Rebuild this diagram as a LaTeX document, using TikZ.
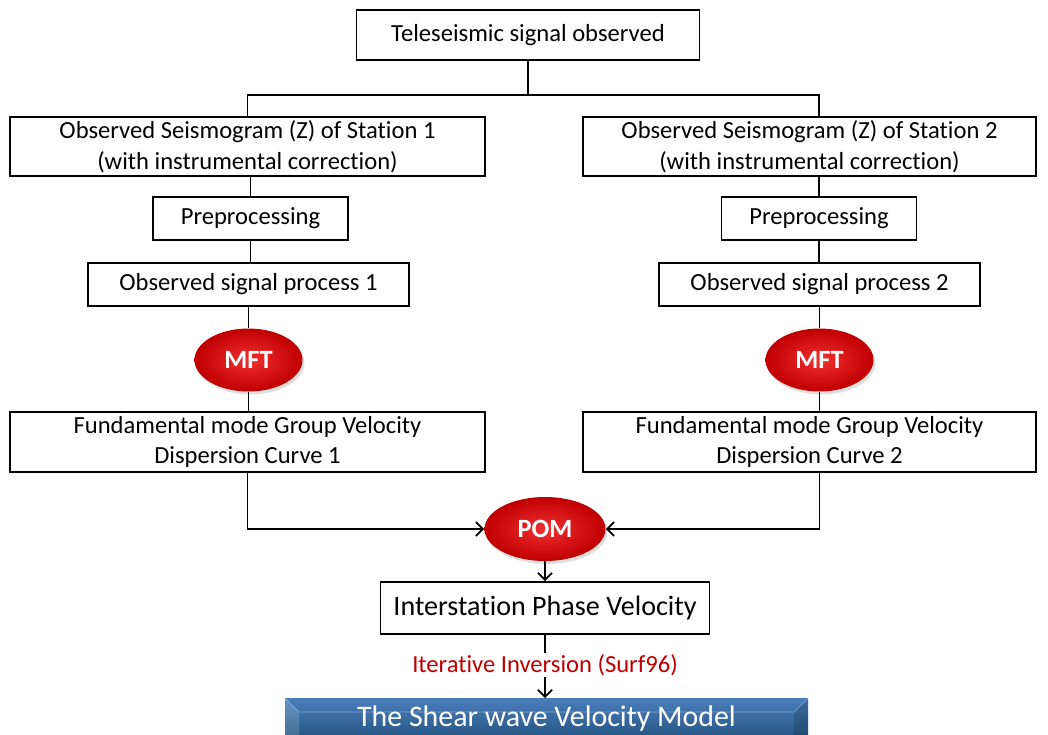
\documentclass[tikz,border=0pt]{standalone}
\usepackage{fontspec}
\setmainfont{Carlito}[Ligatures=NoCommon]
\usetikzlibrary{shapes.geometric,shadows,arrows.meta}
\definecolor{ovalred}{HTML}{C00000}
\definecolor{ovallight}{HTML}{F03030}
\definecolor{labelred}{HTML}{C00000}
\definecolor{modeltop}{HTML}{4A7EBB}
\definecolor{modelbot}{HTML}{1F4E79}
\tikzset{
  box/.style={draw, line width=1pt, fill=white, align=center, inner sep=0pt,
    font=\fontsize{14}{17.5}\selectfont},
  oval/.style={ellipse, inner sep=0pt, minimum width=2.16cm, minimum height=1.26cm,
    shading=radial, inner color=ovallight, outer color=ovalred,
    drop shadow={opacity=0.25, shadow xshift=0.04cm, shadow yshift=-0.06cm},
    text=white, font=\fontsize{15}{17}\selectfont\bfseries},
  link/.style={line width=1pt},
}

\begin{document}
\begin{tikzpicture}[x=0.02cm, y=-0.02cm, >={Straight Barb[length=4pt,width=8pt]}]
\useasboundingbox (0,0) rectangle (1048,734);
\clip (0,0) rectangle (1048,734);

% top of the tree
\node[box, minimum width=6.86cm, minimum height=1cm] (tele) at (528,35) {Teleseismic signal observed};
\coordinate (split) at (528,95);

% station 1
\node[box, minimum width=9.5cm, minimum height=1.18cm] (st1) at (247.5,146.5)
  {Observed Seismogram (Z) of Station 1\\(with instrumental correction)};
\node[box, minimum width=3.9cm, minimum height=0.86cm] (pre1) at (250.5,218.5) {Preprocessing};
\node[box, minimum width=6.42cm, minimum height=0.86cm] (obs1) at (248.5,284.5) {Observed signal process 1};
\node[oval] (mft1) at (248.5,360) {MFT};
\node[box, minimum width=9.5cm, minimum height=1.2cm] (fund1) at (247.5,442)
  {Fundamental mode Group Velocity\\Dispersion Curve 1};

% station 2
\node[box, minimum width=9.06cm, minimum height=1.18cm] (st2) at (809.5,146.5)
  {Observed Seismogram (Z) of Station 2\\(with instrumental correction)};
\node[box, minimum width=3.9cm, minimum height=0.86cm] (pre2) at (819,218.5) {Preprocessing};
\node[box, minimum width=6.42cm, minimum height=0.86cm] (obs2) at (819.5,284.5) {Observed signal process 2};
\node[oval] (mft2) at (819.5,360) {MFT};
\node[box, minimum width=9.06cm, minimum height=1.2cm] (fund2) at (809.5,442)
  {Fundamental mode Group Velocity\\Dispersion Curve 2};

% merge
\node[oval, minimum width=2.42cm, minimum height=1.28cm] (pom) at (545,529) {POM};
\node[box, minimum width=6.58cm, minimum height=1.04cm, font=\fontsize{16}{19}\selectfont] (inter) at (545,608)
  {Interstation Phase Velocity};

% final model
\shade[top color=modeltop, bottom color=modelbot] (285,698) rectangle (808,745);
\fill[white, opacity=0.15] (285,698) -- (299,712) -- (299,745) -- (285,745) -- cycle;
\fill[black, opacity=0.15] (808,698) -- (794,712) -- (794,745) -- (808,745) -- cycle;
\draw[white, opacity=0.35] (285,698) -- (299,712) -- (794,712) -- (808,698);
\node[text=white, font=\fontsize{17}{20}\selectfont] (model) at (546.5,719) {The Shear wave Velocity Model};
\coordinate (modeltop) at (545,698);

% connectors
\draw[link] (tele) -- (split);
\draw[link] (st1.north) |- (split) -| (pre2.north |- st2.north);
\draw[link] (st1.south -| pre1.north) -- (pre1.north);
\draw[link] (pre1.south) -- (obs1.north -| pre1.south);
\draw[link] (obs1.south) -- (mft1.north);
\draw[link] (mft1.south) -- (mft1 |- fund1.north);
\draw[link] (st2.south -| pre2.north) -- (pre2.north);
\draw[link] (pre2.south) -- (obs2.north -| pre2.south);
\draw[link] (obs2.south) -- (mft2.north);
\draw[link] (mft2.south) -- (mft2 |- fund2.north);
\draw[link, ->] (fund1.south) |- (pom.west);
\draw[link, ->] (fund2.south -| mft2) |- (pom.east);
\draw[link, ->] (pom.south) -- (inter.north);
\draw[link, ->] (inter.south) -- (modeltop);
\node[fill=white, inner sep=1pt, text=labelred, font=\fontsize{14}{17}\selectfont] (inv) at (545,665)
  {Iterative Inversion (Surf96)};
\end{tikzpicture}
\end{document}
